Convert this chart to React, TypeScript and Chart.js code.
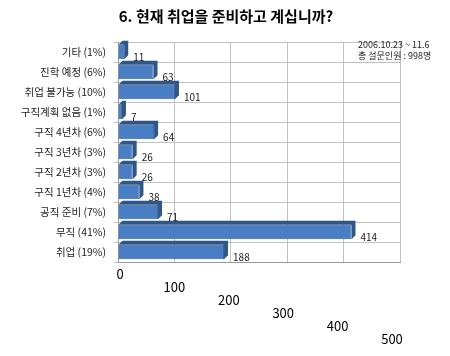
import React, { useEffect, useRef } from "react";
import { Chart, registerables } from "chart.js";

Chart.register(...registerables);

const categories = [
  "기타 (1%)",
  "진학 예정 (6%)",
  "취업 불가능 (10%)",
  "구직계획 없음 (1%)",
  "구직 4년차 (6%)",
  "구직 3년차 (3%)",
  "구직 2년차 (3%)",
  "구직 1년차 (4%)",
  "공직 준비 (7%)",
  "무직 (41%)",
  "취업 (19%)",
];
const values = [11, 63, 101, 7, 64, 26, 26, 38, 71, 414, 188];
const xTicks = [0, 100, 200, 300, 400, 500];
const titleText = "6. 현재 취업을 준비하고 계십니까?";
const noteLines = ["2006.10.23 ~ 11.6", "총 설문인원 : 998명"];

const FONT = "'Noto Sans CJK KR', 'Noto Sans', sans-serif";

const depthPlugin = {
  id: "depth3d",
  beforeDatasetsDraw(chart: any) {
    const meta = chart.getDatasetMeta(0);
    const ctx = chart.ctx;
    const d = 4;
    ctx.save();
    meta.data.forEach((bar: any) => {
      const top = bar.y - bar.height / 2;
      const bottom = bar.y + bar.height / 2;
      ctx.fillStyle = "#2f5687";
      ctx.beginPath();
      ctx.moveTo(bar.base, top);
      ctx.lineTo(bar.base + d, top - d);
      ctx.lineTo(bar.x + d, top - d);
      ctx.lineTo(bar.x + d, bottom - d);
      ctx.lineTo(bar.x, bottom);
      ctx.lineTo(bar.x, top);
      ctx.closePath();
      ctx.fill();
    });
    ctx.restore();
  },
  afterDatasetsDraw(chart: any) {
    const meta = chart.getDatasetMeta(0);
    const ctx = chart.ctx;
    ctx.save();
    ctx.font = `10px ${FONT}`;
    ctx.fillStyle = "#222";
    ctx.textAlign = "left";
    ctx.textBaseline = "middle";
    meta.data.forEach((bar: any, i: number) => {
      ctx.fillText(String(values[i]), bar.x + 9, bar.y + 5);
    });
    // x tick labels, staggered like the perspective view
    const xs = chart.scales.x;
    const area = chart.chartArea;
    ctx.font = `13px ${FONT}`;
    ctx.fillStyle = "#000";
    ctx.textAlign = "center";
    xTicks.forEach((v, i) => {
      ctx.fillText(String(v), xs.getPixelForValue(v) + 2 - i * 2, area.bottom + 12 + i * 13);
    });
    // title
    ctx.font = `bold 15px ${FONT}`;
    ctx.fillText(titleText, 226, 16);
    // note
    ctx.font = `9px ${FONT}`;
    ctx.textAlign = "left";
    ctx.fillStyle = "#222";
    noteLines.forEach((t, i) => ctx.fillText(t, 358, 45 + i * 11));
    ctx.restore();
  },
};

export default function App() {
  const ref = useRef<HTMLCanvasElement>(null);
  useEffect(() => {
    document.body.style.margin = "0";
    const chart = new Chart(ref.current as HTMLCanvasElement, {
      type: "bar",
      data: {
        labels: categories,
        datasets: [
          {
            data: values,
            backgroundColor: "#4a7ec4",
            borderColor: "#34619a",
            borderWidth: 1,
            barPercentage: 0.72,
            categoryPercentage: 1,
          },
        ],
      },
      options: {
        indexAxis: "y",
        responsive: false,
        animation: false,
        layout: { padding: { left: 8, right: 50, top: 42, bottom: 94 } },
        plugins: {
          legend: { display: false },
          tooltip: { enabled: false },
          title: { display: false },
        },
        scales: {
          x: {
            min: 0,
            max: 500,
            ticks: { display: false, stepSize: 100 },
            grid: { color: "#c0c0c0", drawTicks: false },
            border: { color: "#999" },
          },
          y: {
            ticks: {
              font: { size: 10.5, family: FONT },
              color: "#222",
              padding: 8,
            },
            grid: { color: "#c0c0c0", drawTicks: true, tickLength: 4 },
            border: { color: "#999" },
            afterFit(scale: any) {
              scale.width = 110;
            },
          },
        },
      },
      plugins: [depthPlugin],
    } as any);
    return () => chart.destroy();
  }, []);
  return (
    <div style={{ width: 450, height: 356 }}>
      <canvas ref={ref} width={450} height={356} />
    </div>
  );
}
